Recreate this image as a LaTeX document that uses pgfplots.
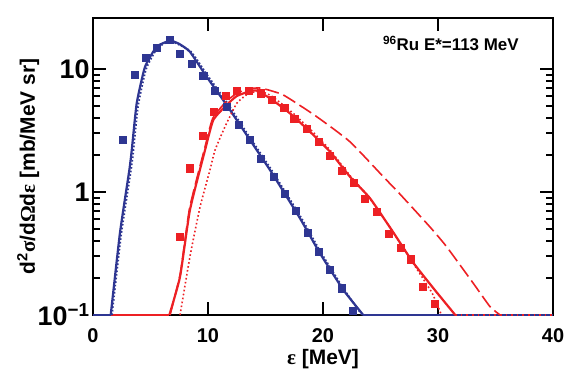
\documentclass[border=0pt]{standalone}
\usepackage{pgfplots}
\pgfplotsset{compat=1.18}
\usepackage{fontspec}
\setmainfont{Liberation Sans}
\newfontfamily\greekfont{Liberation Serif}
\definecolor{cblue}{RGB}{46,54,146}
\definecolor{cred}{RGB}{237,32,36}
\begin{document}
\begin{tikzpicture}
\begin{axis}[
  scale only axis, width=460bp, height=297bp,
  xmin=0, xmax=40, ymin=0.1, ymax=26, ymode=log,
  xtick={0,10,20,30,40},
  ytick={0.1,1,10}, yticklabels={10\textsuperscript{−1},1,10},
  /pgf/number format/assume math mode=true,
  axis line style={line width=2.5bp},
  major tick length=13bp, minor tick length=7bp,
  every tick/.style={black, line width=1.8bp},
  xticklabel style={font=\fontsize{20}{20}\selectfont\bfseries, anchor=base, yshift=-27bp},
  yticklabel style={font=\fontsize{27}{27}\selectfont\bfseries},
  xlabel={{\greekfont ε} [MeV]},
  ylabel={d\textsuperscript{2}{\greekfont σ}/d{\greekfont Ω}d{\greekfont ε} [mb/MeV sr]},
  label style={font=\fontsize{21}{21}\selectfont\bfseries},
  xlabel style={at={(axis description cs:0.5,-0.168)}, anchor=base},
  ylabel style={at={(axis description cs:-0.141,0.5)}, anchor=center},
]
% flat parts along the floor
\addplot[cred, line width=2.2bp] coordinates {(1.6,0.1) (6.64,0.1)};
\addplot[cblue, line width=2.2bp] coordinates {(0,0.1) (1.54,0.1)};
\addplot[cblue, line width=2.2bp] coordinates {(23.5,0.1) (40,0.1)};
\addplot[cred, line width=1.6bp, dash pattern=on 1.6bp off 4bp] coordinates {(31.5,0.1) (40,0.1)};
% blue data
\addplot[only marks, mark=square*, mark size=3.6bp, cblue] coordinates {
(2.55,2.68) (3.6,9.06) (4.58,12.4) (5.54,15.0) (6.64,17.2) (7.57,13.4) (8.58,11.0)
(9.59,8.77) (10.6,6.66) (11.62,4.95) (12.64,3.55) (13.62,2.65) (14.6,1.88) (15.68,1.33)
(16.64,0.975) (17.65,0.70) (18.64,0.467) (19.65,0.327) (20.6,0.235) (21.6,0.165) (22.6,0.108)
};
% red data
\addplot[only marks, mark=square*, mark size=3.6bp, cred] coordinates {
(7.57,0.435) (8.43,1.56) (9.57,2.85) (10.53,4.47) (11.57,6.07) (12.52,6.66) (13.55,6.7)
(14.55,6.35) (15.56,5.62) (16.62,4.85) (17.5,3.97) (18.58,3.29) (19.6,2.56) (20.6,1.96)
(21.6,1.49) (22.64,1.19) (23.65,0.88) (24.7,0.69) (25.68,0.456) (26.75,0.353) (27.65,0.284)
(28.64,0.170) (29.68,0.123)
};
% blue dotted
\addplot[cblue, line width=1.8bp, dash pattern=on 1.6bp off 2bp, smooth, tension=0.3] coordinates {
(1.65,0.1) (2.45,0.45) (3.3,1.5) (3.5,2.1) (3.92,5.0) (4.62,10.0) (5.6,14.8)
(6.75,16.8) (8.5,13.9) (9.95,8.9) (11.7,5.25) (13.4,3.0) (15.45,1.55) (18.05,0.63)
(19.8,0.325) (21.8,0.163) (23.4,0.1)
};
% blue solid
\addplot[cblue, line width=2.2bp, smooth, tension=0.3] coordinates {
(1.54,0.1) (2.35,0.47) (3.16,1.51) (3.37,2.19) (3.8,5.26) (4.52,10.4) (5.54,15.2)
(6.7,17.0) (7.5,16.0) (8.43,13.8) (9.88,8.66) (11.62,5.1) (13.36,2.91) (15.39,1.51)
(18.0,0.611) (19.74,0.317) (21.77,0.160) (23.5,0.1)
};
% red dotted
\addplot[cred, line width=1.6bp, dash pattern=on 1.6bp off 2.4bp, smooth, tension=0.3] coordinates {
(7.57,0.1) (8.43,0.298) (9.3,0.75) (10.17,1.51) (10.61,2.19) (11.48,3.4) (12.5,5.26)
(13.5,6.3) (14.5,6.6) (15.5,6.05) (17.13,4.6) (18.87,3.25) (20.6,2.2) (22.35,1.36)
(24.09,0.88) (26.11,0.47) (28,0.25) (29.5,0.15) (30.3,0.1)
};
% red dashed
\addplot[cred, line width=1.6bp, dash pattern=on 14bp off 5bp, smooth, tension=0.3] coordinates {
(6.7,0.1) (7.6,0.22) (8.4,0.74) (9.7,2.25) (10.4,3.95) (11.55,5.4) (12.5,6.35)
(13.6,6.9) (14.6,7.0) (16.55,6.15) (19.45,4.1) (22.35,2.56) (25.25,1.33) (26.7,0.96)
(29.3,0.52) (30.75,0.359) (33.07,0.181) (34.52,0.117) (35.4,0.1)
};
% red solid
\addplot[cred, line width=2.2bp, smooth, tension=0.3] coordinates {
(6.64,0.1) (7.57,0.205) (8.43,0.714) (9.74,2.19) (10.46,3.85) (11.62,5.1)
(12.5,6.03) (13.65,6.6) (14.2,6.7) (15.39,5.78) (17.13,4.36) (18.87,3.09) (20.6,2.13)
(22.35,1.33) (24.09,0.889) (26.11,0.47) (27.8,0.27) (29.6,0.165) (31.5,0.1)
};
\node[anchor=base east, font=\fontsize{17}{17}\selectfont\bfseries] at (axis description cs:0.933,0.889) {\textsuperscript{96}Ru E*=113 MeV};
\end{axis}
\pgfresetboundingbox
\path ([shift={(-93bp,-58bp)}]current axis.south west) rectangle ([shift={(34bp,18bp)}]current axis.north east);
\end{tikzpicture}
\end{document}
